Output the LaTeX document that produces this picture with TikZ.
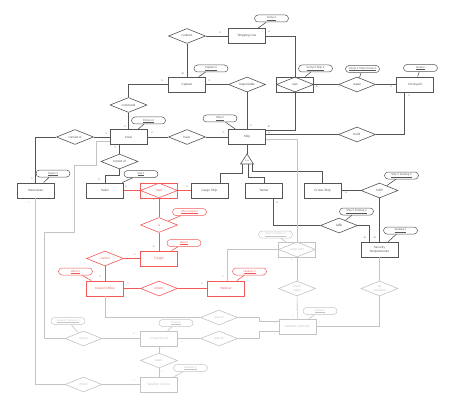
\documentclass[tikz,border=0pt]{standalone}
\usepackage{fontspec}
\setmainfont{Liberation Sans}
\usetikzlibrary{shapes.geometric}
\definecolor{dk}{HTML}{555555}
\definecolor{rd}{HTML}{F25A5A}
\definecolor{gy}{HTML}{C4C4C4}
\tikzset{
 base/.style={font=\fontsize{3.1}{3.6}\selectfont, inner sep=0pt, align=center},
 ent/.style={base, draw, rectangle, minimum width=37pt, minimum height=15pt, line width=0.8pt},
 rel/.style={base, draw, diamond, aspect=2.5, minimum width=37pt, minimum height=15pt, line width=0.6pt},
 att/.style={base, draw, rectangle, rounded corners=3.5pt, minimum width=34pt, minimum height=7pt, inner xsep=2pt, line width=0.5pt, font=\fontsize{2.7}{3.1}\selectfont},
 lbl/.style={inner sep=0pt, font=\fontsize{2.6}{3}\selectfont},
 conn/.style={line width=0.6pt}
}
\newcommand{\ul}[1]{\leavevmode\vtop{\hbox{#1}\kern0.35pt\hrule height 0.18pt}}
\begin{document}
\begin{tikzpicture}[x=1pt,y=-1pt]
\useasboundingbox[fill=white] (0,0) rectangle (454,406);

% ---------------- dark part ----------------
\begin{scope}[color=dk]
\node[ent] (ShippingLine) at (247,36) {Shipping Line};
\node[rel] (contract) at (187,36) {contract};
\node[ent] (Captain) at (187,84.5) {Captain};
\node[rel] (command) at (128.5,105) {command};
\node[rel] (responsible) at (247,84.5) {responsible};
\node[ent] (ownbox) at (295,84.5) {};
\node[rel] (own) at (295,84.5) {own};
\node[rel] (repair) at (357,84.5) {repair};
\node[ent] (Dockyard) at (415,84.5) {Dockyard};
\node[ent] (Crew) at (128.5,137) {Crew};
\node[rel] (have) at (187,137) {have};
\node[ent] (Ship) at (247,137) {Ship};
\node[rel] (build) at (357,134.5) {build};
\node[rel] (consistofA) at (75,137) {consist of};
\node[rel] (consistofB) at (119.5,161.5) {consist of};
\node[ent] (Steersman) at (35.5,190.5) {Steersman};
\node[ent] (Sailor) at (105,190.5) {Sailor};
\node[ent] (Cargo) at (209.5,190.5) {Cargo Ship};
\node[ent] (Tanker) at (264,190.5) {Tanker};
\node[ent] (Cruise) at (322.5,190.5) {Cruise Ship};
\node[rel] (upfulfill) at (379.5,190.5) {fulfill};
\node[rel] (lowfulfill) at (339,225.5) {fulfill};
\node[ent] (Security) at (379.5,249.5) {Security\\Requirements};

\node[att] (CompNo) at (271.5,18.5) {\ul{Comp.\#}};
\node[att] (CaptainNo) at (211,68.5) {\ul{Captain \#}};
\node[att] (CompShip) at (315.5,68.5) {\ul{Comp.\# Ship \#}};
\node[att] (CompShipDock) at (362.5,69) {\ul{Comp.\# Ship \# Dock \#}};
\node[att] (DockNo) at (420.5,68) {\ul{Dock \#}};
\node[att] (PersonNo) at (148.5,120.5) {\ul{Person \#}};
\node[att] (ShipNo) at (220,118.5) {\ul{Ship \#}};
\node[att] (SteersNo) at (53,173.5) {\ul{Steers \#}};
\node[att] (SailNo) at (141,174) {\ul{Sail \#}};
\node[att] (ShipSecA) at (401.5,175.5) {\ul{Ship \# SecReq \#}};
\node[att] (ShipSecB) at (356.5,211.5) {\ul{Ship \# SecReq \#}};
\node[att] (SecReqNo) at (400.5,230.5) {\ul{SecReq \#}};

% ISA triangle
\draw[line width=0.6pt] (240.5,164) -- (247,154) -- (253.5,164) -- cycle;
\node[lbl, font=\fontsize{2.2}{2.6}\selectfont] (isa) at (247,160.7) {is-a};
\coordinate (isatop) at (247,154);
\coordinate (isaL) at (242,164);
\coordinate (isaM) at (248,164);
\coordinate (isaR) at (252.5,164);

\begin{scope}[conn]
\draw (contract) -- (Captain);
\draw (contract) -- (ShippingLine);
\draw (ShippingLine.east) -| (ownbox.north);
\draw (Captain.west) -| (command.north);
\draw (command) -- (Crew);
\draw (Captain) -- (responsible);
\draw (responsible) -- (Ship);
\draw (ownbox.south) |- ([yshift=6.5pt]Ship.east);
\draw (ownbox) -- (repair);
\draw (repair) -- (Dockyard);
\draw ([xshift=-11pt]Dockyard.south) |- (build.east);
\draw (build.west) -- (build.west -| Ship.east);
\draw (Crew) -- (have);
\draw (have) -- (Ship);
\draw (Crew) -- (consistofA);
\draw (consistofA.west) -| (Steersman.north);
\draw (consistofB.north) -- (consistofB.north |- Crew.south);
\draw (consistofB.south) -- ++(0,6) -| (Sailor.north);
\draw (Ship.south) -- (isatop);
\draw (isaL) -- ++(0,9) -| ([xshift=10.5pt]Cargo.north);
\draw (isaM) -- ++(0,13) -| (Tanker.north);
\draw (isaR) -- ++(0,7) -| (Cruise.north);
\draw ([xshift=9pt]Tanker.south) |- (lowfulfill.west);
\draw (lowfulfill.east) -| ([xshift=-10pt]Security.north);
\draw (Cruise) -- (upfulfill);
\draw (upfulfill) -- (Security);
\draw (CompNo) -- (ShippingLine);
\draw (CaptainNo) -- (Captain);
\draw (CompShip) -- (ownbox);
\draw (CompShipDock) -- (repair);
\draw (DockNo) -- (Dockyard);
\draw (PersonNo) -- (Crew);
\draw (ShipNo) -- (Ship);
\draw (SteersNo) -- (Steersman);
\draw (SailNo) -- (Sailor);
\draw (ShipSecA) -- (upfulfill);
\draw (ShipSecB) -- (lowfulfill);
\draw (SecReqNo) -- (Security);
\end{scope}

\node[lbl] (l1) at (220,33) {1};
\node[lbl] (l2) at (183,74) {m};
\node[lbl] (l3) at (269,32) {n};
\node[lbl] (l4) at (162,81) {1};
\node[lbl] (l5) at (125,127) {1};
\node[lbl] (l6) at (209,81) {1};
\node[lbl] (l7) at (251,126) {1};
\node[lbl] (l8) at (269,127) {m};
\node[lbl] (l9) at (269,132.5) {n};
\node[lbl] (l10) at (317,87) {m};
\node[lbl] (l11) at (391,87) {n};
\node[lbl] (l12) at (409,96) {1};
\node[lbl] (l13) at (152,133) {1};
\node[lbl] (l14) at (223,133) {1};
\node[lbl] (l15) at (106,134) {1};
\node[lbl] (l16) at (32,179) {1};
\node[lbl] (l17) at (115,148) {1};
\node[lbl] (l18) at (99,180) {n};
\node[lbl] (l19) at (126,187) {n};
\node[lbl] (l20) at (187,187) {1};
\node[lbl] (l21) at (277,203) {n};
\node[lbl] (l22) at (346,193) {n};
\node[lbl] (l23) at (365,238) {m};
\node[lbl] (l24) at (375,238) {m};
\end{scope}

% ---------------- red part ----------------
\begin{scope}[color=rd]
\node[ent] (loadbox) at (159,190.5) {};
\node[rel] (load) at (159,190.5) {load};
\node[rel] (is) at (159,225) {is};
\node[ent] (Freight) at (159,258.5) {Freight};
\node[rel] (control) at (105,258.5) {control};
\node[ent] (CustomOffice) at (105,288.5) {Custom Office};
\node[rel] (inform) at (159,288.5) {inform};
\node[ent] (Harbour) at (226,288.5) {Harbour};
\node[att] (ShipIdent) at (189.5,212) {\ul{Ship \# Ident \#}};
\node[att] (IdentNo) at (184,243) {\ul{Ident \#}};
\node[att] (OfficeNo) at (75.5,271.5) {\ul{Office \#}};
\node[att] (HarbourNo) at (249.5,271.5) {\ul{Harbour \#}};
\begin{scope}[conn]
\draw (Sailor) -- (loadbox);
\draw (loadbox) -- (Cargo);
\draw (loadbox) -- (is);
\draw (is) -- (Freight);
\draw (Freight) -- (control);
\draw (control) -- (CustomOffice);
\draw (CustomOffice) -- (inform);
\draw (inform) -- (Harbour);
\draw (ShipIdent) -- (is);
\draw (IdentNo) -- (Freight);
\draw (OfficeNo) -- (CustomOffice);
\draw (HarbourNo) -- (Harbour);
\end{scope}
\node[lbl] (r1) at (154,200) {n};
\node[lbl] (r2) at (154,247) {m};
\node[lbl] (r3) at (135,255) {n};
\node[lbl] (r4) at (100,277) {1};
\node[lbl] (r5) at (128,284) {1};
\node[lbl] (r6) at (202,284) {1};
\end{scope}

% ---------------- gray part ----------------
\begin{scope}[color=gy]
\node[ent] (enterportbox) at (297,249.5) {};
\node[rel] (enterport) at (297,249.5) {enter port};
\node[rel] (checkorigin) at (297,288.5) {check\\origin};
\node[rel] (setstandard) at (379.5,288.5) {set\\standard};
\node[ent] (Maritime) at (297.5,326.5) {Maritime Authority};
\node[rel] (partofA) at (219,317.5) {part of};
\node[rel] (partofB) at (219,338.5) {part of};
\node[ent] (CoastGuard) at (159,338.5) {Coast Guard};
\node[rel] (rescue) at (83.5,338.5) {rescue};
\node[rel] (alarm) at (159,360.5) {alarm};
\node[ent] (Weather) at (159,384.5) {Weather Service};
\node[rel] (informB) at (83.5,384.5) {inform};
\node[att] (ShipHarbour) at (275.5,234.5) {\ul{Ship \# Harbour \#}};
\node[att] (AuthorNo) at (320,311) {\ul{Author.\#}};
\node[att] (GuardNo) at (176,323) {\ul{Guard \#}};
\node[att] (GuardPerson) at (68,321) {\ul{Guard \# Person \#}};
\node[att] (WeatherNo) at (190.5,368) {\ul{Weather \#}};
\begin{scope}[conn]
\draw ([xshift=1pt]Harbour.north) |- (enterportbox.west);
\draw ([yshift=-2pt]Ship.east) -| (enterportbox.north);
\draw (enterportbox) -- (checkorigin);
\draw (checkorigin) -- (Maritime);
\draw (Maritime.east) -| (setstandard.south);
\draw (setstandard) -- (Security);
\draw (CustomOffice.south) |- (partofA.west);
\draw (partofA.east) -- ++(21,0) |- ([yshift=5pt]Maritime.west);
\draw (partofB.east) -- ++(21,0) |- ([yshift=-5pt]Maritime.west);
\draw (CoastGuard) -- (partofB);
\draw (rescue) -- (CoastGuard);
\draw ([yshift=-4pt]Crew.west) -- ++(-13,0) -- ++(0,24) -- ++(-22,0) -- ++(0,67) -- ++(-30,0) |- (rescue.west);
\draw (Steersman.south) |- (informB.west);
\draw (informB) -- (Weather);
\draw (CoastGuard) -- (alarm);
\draw (alarm) -- (Weather);
\draw (ShipHarbour) -- (enterportbox);
\draw (AuthorNo) -- (Maritime);
\draw (GuardNo) -- (CoastGuard);
\draw (GuardPerson) -- (rescue);
\draw (WeatherNo) -- (Weather);
\end{scope}
\node[lbl] (g1) at (223,277) {m};
\node[lbl] (g2) at (269,142) {n};
\node[lbl] (g3) at (292,260) {n};
\node[lbl] (g4) at (293,316) {1};
\node[lbl] (g5) at (319,323) {1};
\node[lbl] (g6) at (376,259) {n};
\node[lbl] (g7) at (109,299) {1};
\node[lbl] (g8) at (275,324) {1};
\node[lbl] (g9) at (275,334.5) {1};
\node[lbl] (g10) at (182,342) {1};
\node[lbl] (g11) at (134,334) {m};
\node[lbl] (g12) at (106,143) {1};
\node[lbl] (g13) at (29,203) {1};
\node[lbl] (g14) at (134,381) {1};
\node[lbl] (g15) at (162,349) {n};
\node[lbl] (g16) at (162,372) {1};
\end{scope}
\end{tikzpicture}
\end{document}
